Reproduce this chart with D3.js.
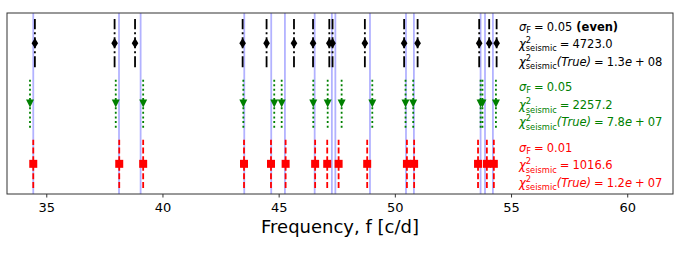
<!DOCTYPE html>
<html>
<head>
<meta charset="utf-8">
<script src="https://cdn.jsdelivr.net/npm/d3@7"></script>
<style>
  body { margin: 0; background: #fff; }
  svg { display: block; font-family: "DejaVu Sans", sans-serif; }
</style>
</head>
<body>
<svg id="chart" width="681" height="256"></svg>
<script>
// frequencies [c/d]
const trueFreqs = [34.44, 38.13, 39.06, 43.52, 44.68, 45.27, 46.55, 47.29, 47.44, 48.93, 50.48, 50.82, 53.69, 53.88, 54.22];
const evenFreqs = [34.51, 37.94, 38.82, 43.45, 44.48, 45.66, 46.48, 47.18, 47.32, 48.71, 50.40, 50.98, 53.63, 54.06, 54.38];
const sigma05Freqs = [34.30, 37.99, 39.17, 43.48, 44.81, 45.13, 46.49, 47.11, 47.71, 49.03, 50.46, 50.79, 53.69, 53.77, 54.35];
const sigma01Freqs = [34.44, 38.14, 39.17, 43.51, 44.67, 45.30, 46.57, 47.09, 47.58, 48.81, 50.52, 50.83, 53.58, 53.96, 54.26];

const xTicks = [35, 40, 45, 50, 55, 60];
const rowLevels = [3, 2, 1];
const sigmaLabels = ['0.05', '0.05', '0.01'];
const chiLabels = ['4723.0', '2257.2', '1016.6'];
const chiTrueMant = ['1.3', '7.8', '1.2'];
const chiTrueExp = ['08', '07', '07'];
const rowColors = ['black', 'green', 'red'];

const width = 681;
const height = 256;
const margin = { top: 13, right: 8, bottom: 62, left: 7 };

const svg = d3.select('#chart');

const x = d3.scaleLinear()
  .domain([33.31, 61.97])
  .range([margin.left, width - margin.right]);

const y = d3.scaleLinear()
  .domain([0.5, 3.5])
  .range([height - margin.bottom, margin.top]);

const errHalf = 0.4;

// true frequencies
svg.append('g')
  .selectAll('line')
  .data(trueFreqs)
  .join('line')
    .attr('x1', d => x(d))
    .attr('x2', d => x(d))
    .attr('y1', y.range()[1])
    .attr('y2', y.range()[0])
    .attr('stroke', 'blue')
    .attr('stroke-opacity', 0.3)
    .attr('stroke-width', 1.8);

const series = [
  { freqs: evenFreqs, level: rowLevels[0], color: rowColors[0], dash: '11,3,2,3' },
  { freqs: sigma05Freqs, level: rowLevels[1], color: rowColors[1], dash: '2,2.6' },
  { freqs: sigma01Freqs, level: rowLevels[2], color: rowColors[2], dash: '6,2.6' },
];

const markerPaths = [
  'M0,-5.2L3.3,0L0,5.2L-3.3,0Z',   // thin diamond
  'M-4,-4L4,-4L0,4Z',              // triangle down
  'M-4,-4L4,-4L4,4L-4,4Z',         // square
];

series.forEach((s, i) => {
  const g = svg.append('g');

  g.selectAll('line')
    .data(s.freqs)
    .join('line')
      .attr('x1', d => x(d))
      .attr('x2', d => x(d))
      .attr('y1', y(s.level - errHalf))
      .attr('y2', y(s.level + errHalf))
      .attr('stroke', s.color)
      .attr('stroke-width', 1.8)
      .attr('stroke-dasharray', s.dash);

  g.selectAll('path')
    .data(s.freqs)
    .join('path')
      .attr('d', markerPaths[i])
      .attr('transform', d => `translate(${x(d)},${y(s.level)})`)
      .attr('fill', s.color);
});

// frame
svg.append('rect')
  .attr('x', margin.left)
  .attr('y', margin.top)
  .attr('width', width - margin.left - margin.right)
  .attr('height', height - margin.top - margin.bottom)
  .attr('fill', 'none')
  .attr('stroke', '#333')
  .attr('stroke-width', 1);

const xAxis = svg.append('g')
  .attr('transform', `translate(0,${height - margin.bottom})`)
  .call(d3.axisBottom(x).tickValues(xTicks).tickSize(3.5).tickPadding(5.2).tickSizeOuter(0));
xAxis.select('.domain').remove();
xAxis.selectAll('line').attr('stroke', '#333');
xAxis.selectAll('text')
  .attr('font-size', 13)
  .attr('font-family', '"DejaVu Sans", sans-serif')
  .attr('fill', '#000');

svg.append('text')
  .attr('x', (margin.left + width - margin.right) / 2)
  .attr('y', 232.7)
  .attr('text-anchor', 'middle')
  .attr('font-size', 18)
  .text('Frequency, f [c/d]');

// annotations on the right, mathtext-like
const textX = 519;
const baselines = [[30.5, 47.7, 65.7], [90.7, 109, 126], [151.5, 169, 186.5]];
const fs = 11.5;
const small = 8.3;
const opGap = 3;

const addChi = t => {
  t.append('tspan').attr('font-style', 'italic').text('χ');
  t.append('tspan').attr('font-size', small).attr('dy', -5).text('2');
  t.append('tspan').attr('font-size', small).attr('dx', -5.3).attr('dy', 8.5).text('seismic');
};

// operator followed by the next token, both spaced like mathtext
const addOp = (t, op, next, dy = 0) => {
  t.append('tspan').attr('dx', opGap).attr('dy', dy).text(op);
  t.append('tspan').attr('dx', opGap).text(next);
};

rowColors.forEach((c, i) => {
  const b = baselines[i];

  const t1 = svg.append('text').attr('x', textX).attr('y', b[0]).attr('font-size', fs).attr('fill', c);
  t1.append('tspan').attr('font-style', 'italic').text('σ');
  t1.append('tspan').attr('font-size', small).attr('dy', 2).text('F');
  addOp(t1, '=', sigmaLabels[i], -2);
  if (i === 0) t1.append('tspan').attr('font-weight', 'bold').text(' (even)');

  const t2 = svg.append('text').attr('x', textX).attr('y', b[1]).attr('font-size', fs).attr('fill', c);
  addChi(t2);
  addOp(t2, '=', chiLabels[i], -3.5);

  const t3 = svg.append('text').attr('x', textX).attr('y', b[2]).attr('font-size', fs).attr('fill', c);
  addChi(t3);
  t3.append('tspan').attr('dy', -3.5).attr('font-style', 'italic').text('(True)');
  addOp(t3, '=', chiTrueMant[i]);
  t3.append('tspan').attr('font-style', 'italic').text('e');
  addOp(t3, '+', chiTrueExp[i]);
});
</script>
</body>
</html>
